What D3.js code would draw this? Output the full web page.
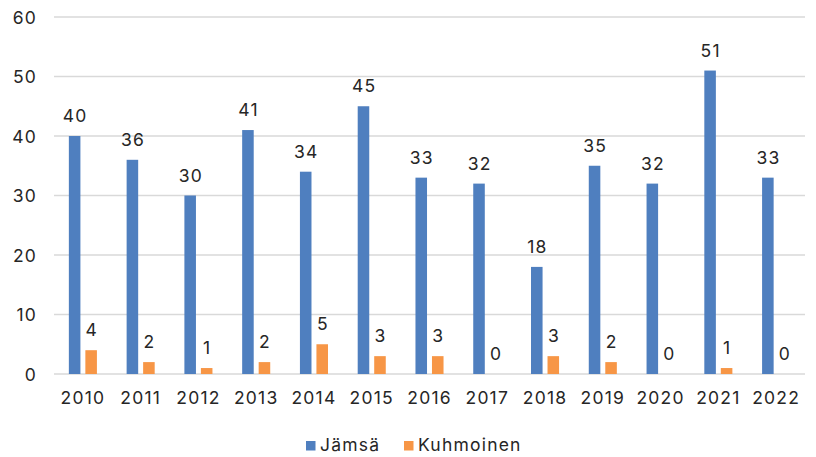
<!DOCTYPE html>
<html><head><meta charset="utf-8">
<script src="https://cdn.jsdelivr.net/npm/d3@7"></script>
<style>body{margin:0;background:#fff}svg{display:block}text{font-family:Inter,"Noto Sans",sans-serif;fill:#262626;letter-spacing:1.2px}</style>
</head><body><svg id="c" width="816" height="457"></svg>
<script>
const years = ["2010","2011","2012","2013","2014","2015","2016","2017","2018","2019","2020","2021","2022"];
const jamsa = [40,36,30,41,34,45,33,32,18,35,32,51,33];
const kuhmoinen = [4,2,1,2,5,3,3,0,3,2,0,1,0];
const seriesNames = ["Jämsä","Kuhmoinen"];
const colors = ["#4f7fbf","#f79646"];
const yTicks = [0,10,20,30,40,50,60];
const FS = 17.5;

const svg = d3.select("#c");
const x = d3.scaleBand().domain(years).range([54,805]).paddingInner(0).paddingOuter(0);
const y = d3.scaleLinear().domain([0,60]).range([374,17]);
const sub = d3.scaleBand().domain([0,1]).range([0,x.bandwidth()]).paddingInner(0.3).paddingOuter(0.9);

svg.append("g").selectAll("line").data(yTicks).join("line")
  .attr("x1",54).attr("x2",805).attr("y1",d=>y(d)).attr("y2",d=>y(d))
  .attr("stroke","#d9d9d9").attr("stroke-width",1.3);

const yAxis = d3.axisLeft(y).tickValues(yTicks).tickSize(0).tickPadding(0);
const gy = svg.append("g").attr("transform","translate(37,0)").call(yAxis);
gy.select(".domain").remove();
gy.selectAll("text").attr("font-size",FS).attr("dy","0.35em").style("font-family","Inter,'Noto Sans',sans-serif").attr("fill","#262626");

const xAxis = d3.axisBottom(x).tickSize(0).tickPadding(0);
const gx = svg.append("g").attr("transform","translate(0,392)").call(xAxis);
gx.select(".domain").remove();
gx.selectAll("text").attr("font-size",FS).attr("dy","0.71em").style("font-family","Inter,'Noto Sans',sans-serif").attr("fill","#262626");

const data = [jamsa,kuhmoinen];
data.forEach((vals,si)=>{
  const g = svg.append("g");
  g.selectAll("rect").data(vals).join("rect")
    .attr("x",(d,i)=>x(years[i])+sub(si))
    .attr("width",sub.bandwidth())
    .attr("y",d=>y(d))
    .attr("height",d=>y(0)-y(d))
    .attr("fill",colors[si]);
  g.selectAll("text").data(vals).join("text")
    .attr("x",(d,i)=>x(years[i])+sub(si)+sub.bandwidth()/2+0.6)
    .attr("y",d=>y(d)-14)
    .attr("text-anchor","middle")
    .attr("font-size",FS)
    .text(d=>d);
});

const leg = svg.append("g");
const legX = [306,404];
seriesNames.forEach((n,i)=>{
  leg.append("rect").attr("x",legX[i]).attr("y",441).attr("width",9.5).attr("height",9.5).attr("fill",colors[i]);
  leg.append("text").attr("x",legX[i]+14).attr("y",451).attr("font-size",FS).text(n);
});
</script></body></html>
